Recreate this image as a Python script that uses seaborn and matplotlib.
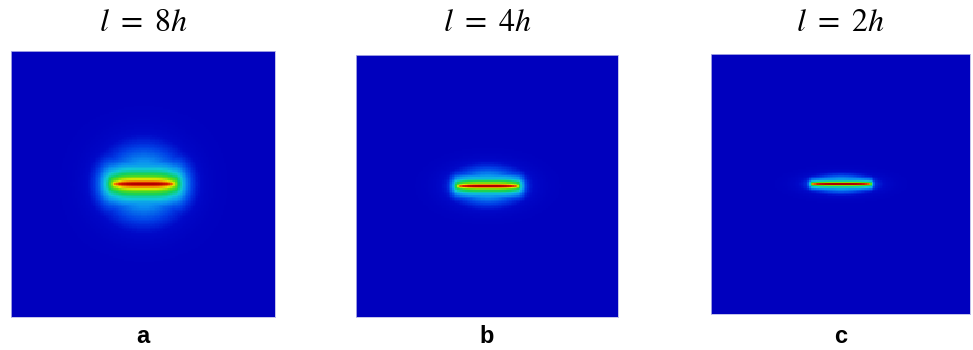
import numpy as np
import pandas as pd
import matplotlib
matplotlib.use("Agg")
import matplotlib.pyplot as plt
from matplotlib.colors import LinearSegmentedColormap
import seaborn as sns

# panel settings
length_scales = [8, 4, 2]          # l in multiples of h
titles = [r'$l\ =\ 8h$', r'$l\ =\ 4h$', r'$l\ =\ 2h$']
panel_labels = ['a', 'b', 'c']
crack_center = [0.503, 0.50]       # domain units
crack_half = 0.112
mesh_h = 1.0 / 160
n_cells = 161
tip_stretch = 1.3                  # field decays faster beyond the tips
tip_taper = 0.25                   # field weaker towards the tips (times l)
glow_level = 0.32                  # faint elliptical halo around the crack
glow_axes = [0.8, 2.8]             # extra semi-axes of the halo (times l)

# colour map like the paraview jet used in the figure
cmap_colors = [(0.0, '#0000BE'), (0.05, '#0008C8'), (0.12, '#0040E6'),
               (0.22, '#0A90F0'), (0.32, '#10C8D8'), (0.45, '#10D060'),
               (0.58, '#60DC10'), (0.70, '#E6E600'), (0.80, '#F08000'),
               (0.90, '#D82000'), (1.0, '#B00000')]
cmap = LinearSegmentedColormap.from_list('pf_jet', cmap_colors)


def phase_field(l):
    # exponential phase-field profile around the crack segment
    c = (np.arange(n_cells) + 0.5) / n_cells
    X, Y = np.meshgrid(c, c)
    xc, yc = crack_center
    lw = l * mesh_h
    dx = np.maximum(0, np.abs(X - xc) - crack_half) * tip_stretch
    u = np.clip((X - xc) / crack_half, -1, 1)
    dist = np.hypot(dx, Y - yc) + tip_taper * lw * u ** 4
    core = np.exp(-dist / lw)
    A = crack_half + glow_axes[0] * lw
    B = glow_axes[1] * lw
    glow = glow_level * np.exp(-(((X - xc) / A) ** 2 + ((Y - yc) / B) ** 2))
    return pd.DataFrame(np.maximum(core, glow))


fig = plt.figure(figsize=(9.73, 3.5), dpi=100)
positions = [[0.0113, 0.0943, 0.2713, 0.760],
             [0.3659, 0.0943, 0.2693, 0.7486],
             [0.7307, 0.1029, 0.2662, 0.7429]]

for pos, l, title, lab in zip(positions, length_scales, titles, panel_labels):
    ax = fig.add_axes(pos)
    sns.heatmap(phase_field(l), ax=ax, cmap=cmap, vmin=0, vmax=1, cbar=False,
                xticklabels=False, yticklabels=False, rasterized=True)
    ax.set_aspect('auto')
    for s in ax.spines.values():
        s.set_visible(True)
        s.set_color('#B8B8E8')
        s.set_linewidth(0.6)
    cx = pos[0] + pos[2] / 2
    fig.text(cx, 0.937, title, ha='center', va='center', fontsize=23,
             math_fontfamily='stix')
    fig.text(cx, 0.038, lab, ha='center', va='center', fontsize=17,
             fontweight='bold', family='Liberation Sans')

fig.savefig('out.png', dpi=100)
